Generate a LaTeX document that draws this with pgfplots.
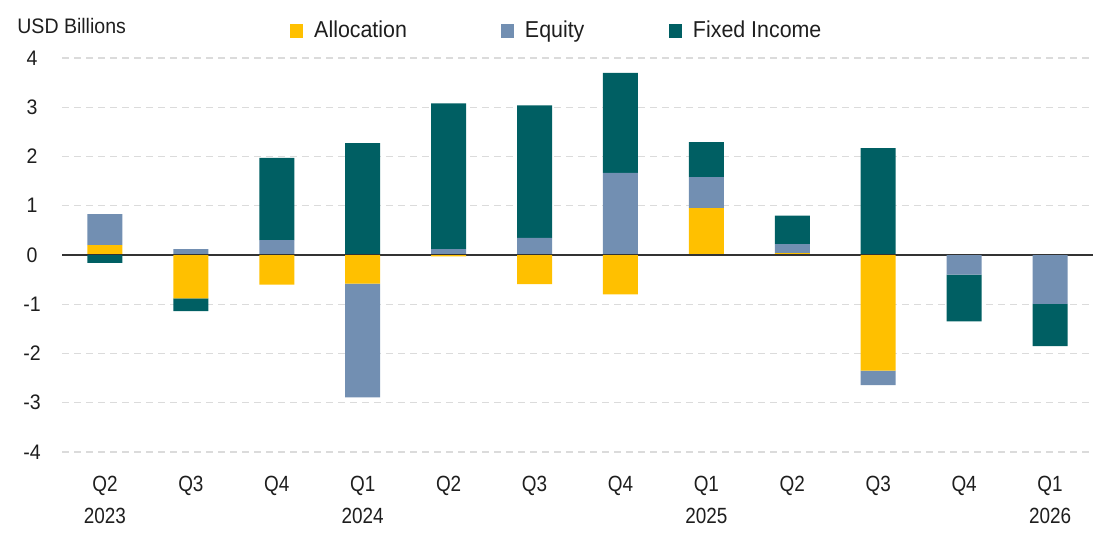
\documentclass[border=0pt]{standalone}
\usepackage{pgfplots}
\pgfplotsset{compat=1.18}
\usepackage{pgfplotstable}
\usepackage{fontspec}
\setmainfont{Liberation Sans}[FakeStretch=0.86]
\newfontfamily\legfont{Liberation Sans}[FakeStretch=0.93]
\definecolor{alloc}{RGB}{255,192,0}
\definecolor{equity}{RGB}{114,143,178}
\definecolor{fixinc}{RGB}{0,95,99}
\definecolor{txt}{RGB}{30,30,30}

% positive parts (stacked upward)
\pgfplotstableread{
x  alloc  equity  fixed
0  0.20   0.63    0
1  0      0.12    0
2  0      0.30    1.67
3  0      0       2.27
4  0      0.12    2.96
5  0      0.35    2.69
6  0      1.67    2.03
7  0.95   0.63    0.71
8  0.04   0.18    0.58
9  0      0       2.17
10 0      0       0
11 0      0       0
}\posdata
% negative parts (stacked downward)
\pgfplotstableread{
x  alloc  equity  fixed
0  0      0       -0.16
1  -0.88  0       -0.26
2  -0.60  0       0
3  -0.58  -2.31   0
4  -0.03  0       0
5  -0.59  0       0
6  -0.80  0       0
7  0      0       0
8  0      0       0
9  -2.35  -0.29   0
10 0      -0.40   -0.95
11 0      -0.99   -0.86
}\negdata

\pgfplotsset{base/.style={
  scale only axis, width=515.5pt, height=197pt,
  at={(0,0)}, anchor=south west,
  xmin=-0.5, xmax=11.5, ymin=-4, ymax=4,
  ybar stacked, bar width=17.5pt,
  axis line style={draw=none}, tick style={draw=none},
}}

\begin{document}
\begin{tikzpicture}
\useasboundingbox (-31pt,-42.5pt) rectangle (522pt,226pt);
\begin{axis}[base, clip=false,
  ymajorgrids,
  grid style={color=black!14, dash pattern=on 3.5pt off 2.5pt, line width=0.6pt},
  ytick={-4,-3,-2,-1,0,1,2,3,4},
  xtick={0,1,2,3,4,5,6,7,8,9,10,11},
  xticklabels={{Q2\\2023},Q3,Q4,{Q1\\2024},Q2,Q3,Q4,{Q1\\2025},Q2,Q3,Q4,{Q1\\2026}},
  xticklabel style={align=center, font=\fontsize{11}{16}\selectfont, yshift=-8.5pt, text=txt},
  yticklabel style={font=\legfont\fontsize{10.5}{12}\selectfont, anchor=center, xshift=-15pt, text=txt},
  /pgf/number format/assume math mode=true,
  legend style={draw=none, fill=none, at={(0.221,1.069)}, anchor=west,
    legend columns=3, inner sep=0pt, font=\legfont\fontsize{11.5}{13}\selectfont, text=txt,
    /tikz/every odd column/.append style={column sep=3.5pt},
    /tikz/every even column/.append style={column sep=45pt}},
  legend cell align=left,
  legend image code/.code={\fill[#1] (0pt,-3.5pt) rectangle (6.5pt,3.5pt);},
]
\addplot[fill=alloc, draw=none] table[x=x, y=alloc] {\posdata};
\addplot[fill=equity, draw=none] table[x=x, y=equity] {\posdata};
\addplot[fill=fixinc, draw=none] table[x=x, y=fixed] {\posdata};
\legend{Allocation, \makebox[25pt][l]{Equity}, Fixed Income}
\node[anchor=west, inner sep=0pt, font=\legfont\fontsize{10.5}{12}\selectfont, text=txt]
  at ([xshift=-22.5pt, yshift=16pt]rel axis cs:0,1) {USD Billions};
\end{axis}
\begin{axis}[base, hide axis]
\addplot[fill=alloc, draw=none] table[x=x, y=alloc] {\negdata};
\addplot[fill=equity, draw=none] table[x=x, y=equity] {\negdata};
\addplot[fill=fixinc, draw=none] table[x=x, y=fixed] {\negdata};
\draw[black!80, line width=0.8pt] (axis cs:-0.5,0) -- (axis cs:11.5,0);
\end{axis}
\end{tikzpicture}
\end{document}
